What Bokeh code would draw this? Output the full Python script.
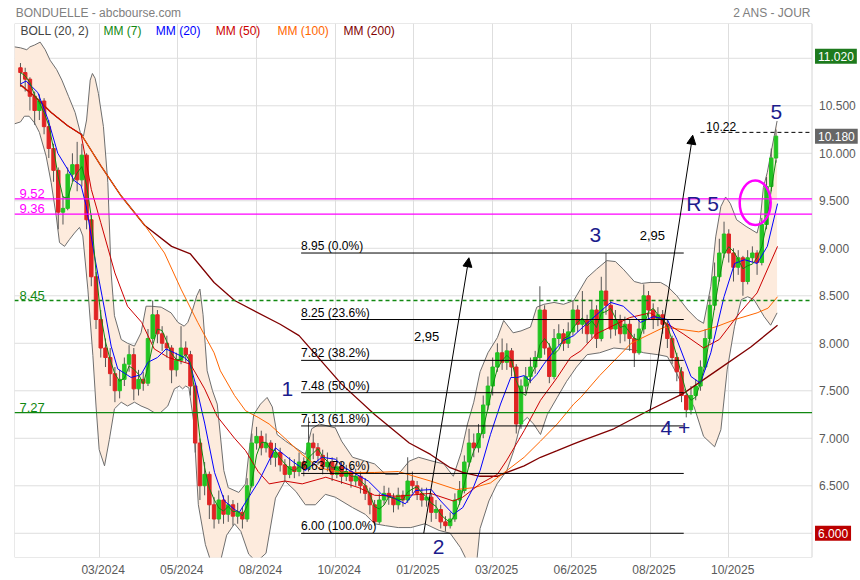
import pandas as pd
from bokeh.plotting import figure
from bokeh.models import ColumnDataSource, FixedTicker, Label, Arrow, NormalHead, Range1d, LinearAxis
from bokeh.embed import file_html
from bokeh.resources import INLINE

FONT = "Liberation Sans"

# ---------------- data (x = trading-day index, one candle per 3 days) ----------------
candle_day = list(range(0, 481, 3))
first_open = 10.90
closes = [
    10.85, 10.78, 10.60, 10.45, 10.55, 10.28, 10.05, 9.82, 9.38, 9.42,
    9.78, 9.88, 9.72, 9.98, 9.30, 8.70, 8.25, 7.95, 7.85, 7.68,
    7.50, 7.62, 7.78, 7.88, 7.52, 7.62, 7.58, 8.05, 8.30, 8.10,
    8.00, 7.95, 7.72, 7.82, 7.95, 7.88, 7.55, 6.95, 6.50, 6.62,
    6.30, 6.15, 6.35, 6.20, 6.30, 6.18, 6.22, 6.15, 6.50, 6.95,
    7.02, 6.90, 6.95, 6.80, 6.85, 6.72, 6.62, 6.70, 6.65, 6.75,
    6.68, 6.95, 6.90, 6.82, 6.70, 6.75, 6.62, 6.70, 6.60, 6.65,
    6.55, 6.60, 6.50, 6.42, 6.30, 6.12, 6.35, 6.42, 6.38, 6.30,
    6.40, 6.35, 6.55, 6.50, 6.42, 6.35, 6.38, 6.22, 6.25, 6.12,
    6.08, 6.15, 6.35, 6.45, 6.75, 6.95, 6.90, 7.05, 7.35, 7.55,
    7.75, 7.90, 7.80, 7.92, 7.75, 7.15, 7.55, 7.65, 7.75, 7.85,
    8.35, 7.95, 7.65, 8.05, 8.10, 8.00, 8.12, 8.35, 8.20, 8.25,
    8.10, 8.35, 8.05, 8.55, 8.40, 8.15, 8.25, 8.10, 8.20, 8.05,
    7.90, 8.15, 8.50, 8.35, 8.25, 8.30, 8.20, 8.05, 7.85, 7.70,
    7.45, 7.30, 7.45, 7.55, 7.75, 8.05, 8.40, 8.70, 8.95, 9.15,
    8.95, 8.80, 8.90, 8.65, 8.90, 8.95, 8.85, 9.25, 9.65, 9.95,
    10.18,
]
highs = [
    10.95, 10.90, 10.80, 10.65, 10.62, 10.58, 10.35, 10.10, 9.85, 9.55,
    9.85, 10.00, 10.12, 10.10, 10.00, 9.35, 8.75, 8.35, 8.05, 7.95,
    7.75, 7.72, 7.85, 7.98, 7.95, 7.72, 7.70, 8.15, 8.45, 8.35,
    8.18, 8.08, 7.98, 7.90, 8.18, 8.02, 7.92, 7.58, 7.00, 6.75,
    6.65, 6.38, 6.45, 6.40, 6.40, 6.35, 6.32, 6.28, 6.58, 7.05,
    7.12, 7.08, 7.05, 6.98, 6.95, 6.90, 6.78, 6.80, 6.78, 6.85,
    6.80, 7.22, 7.05, 6.95, 6.88, 6.85, 6.80, 6.80, 6.75, 6.72,
    6.70, 6.68, 6.65, 6.58, 6.48, 6.35, 6.42, 6.50, 6.48, 6.42,
    6.48, 6.45, 6.80, 6.65, 6.55, 6.48, 6.48, 6.42, 6.35, 6.30,
    6.18, 6.22, 6.42, 6.55, 6.82, 7.10, 7.05, 7.15, 7.45, 7.65,
    7.85, 8.00, 8.05, 8.00, 7.95, 7.78, 7.62, 7.75, 7.85, 7.92,
    8.60, 8.40, 8.00, 8.15, 8.20, 8.15, 8.22, 8.45, 8.40, 8.55,
    8.30, 8.45, 8.40, 8.70, 8.95, 8.45, 8.35, 8.30, 8.28, 8.25,
    8.10, 8.25, 8.62, 8.55, 8.42, 8.38, 8.35, 8.25, 8.08, 7.90,
    7.75, 7.50, 7.55, 7.62, 7.82, 8.15, 8.50, 8.85, 9.10, 9.28,
    9.20, 9.00, 8.98, 8.92, 8.98, 9.02, 8.98, 9.32, 9.75, 10.05,
    10.25,
]
lows = [
    10.70, 10.65, 10.45, 10.30, 10.35, 10.20, 9.95, 9.70, 9.20, 9.25,
    9.40, 9.70, 9.60, 9.65, 9.20, 8.60, 8.15, 7.85, 7.75, 7.55,
    7.38, 7.42, 7.55, 7.70, 7.40, 7.45, 7.50, 7.55, 8.00, 8.00,
    7.92, 7.85, 7.58, 7.65, 7.78, 7.80, 7.45, 6.85, 6.35, 6.40,
    6.15, 6.05, 6.10, 6.10, 6.12, 6.08, 6.10, 6.05, 6.12, 6.48,
    6.88, 6.82, 6.85, 6.72, 6.70, 6.65, 6.55, 6.58, 6.58, 6.60,
    6.60, 6.65, 6.78, 6.72, 6.62, 6.65, 6.55, 6.58, 6.52, 6.55,
    6.48, 6.50, 6.42, 6.35, 6.20, 6.08, 6.10, 6.30, 6.30, 6.22,
    6.25, 6.28, 6.32, 6.42, 6.35, 6.28, 6.28, 6.12, 6.15, 6.05,
    6.02, 6.05, 6.12, 6.30, 6.42, 6.70, 6.80, 6.85, 7.00, 7.30,
    7.45, 7.70, 7.72, 7.72, 7.65, 7.05, 7.10, 7.48, 7.58, 7.68,
    7.82, 7.88, 7.58, 7.62, 7.98, 7.92, 7.95, 8.08, 8.12, 8.10,
    8.00, 8.05, 7.95, 8.02, 8.30, 8.05, 8.08, 8.00, 8.02, 7.92,
    7.75, 7.88, 8.10, 8.25, 8.15, 8.18, 8.10, 7.95, 7.78, 7.60,
    7.38, 7.22, 7.25, 7.40, 7.50, 7.72, 8.00, 8.35, 8.65, 8.90,
    8.85, 8.65, 8.72, 8.50, 8.62, 8.85, 8.72, 8.82, 9.20, 9.60,
    9.90,
]
assert len(closes) == len(highs) == len(lows) == len(candle_day)
opens = [first_open] + closes[:-1]

# Bollinger (20, 2) bands
bb_up_day = [-3.8, 0, 4, 6, 9, 12.5, 15.7, 18.8, 23, 26.3, 30.5, 34.7, 38, 40, 42, 44.3, 45.7, 47.4, 49.5,
             52.7, 55.5, 57.6, 59.7, 64, 68, 72.4, 76.6, 79.8, 83, 89.4, 95.7, 100, 104, 106.3, 109.5,
             112, 114, 116, 118.6, 122, 125, 129.2, 132, 138.7, 143, 145, 148.2, 152.5, 156.7, 160,
             163, 168.4, 174.7, 181, 185, 190, 200, 204, 211, 219, 225, 232, 240, 247, 253, 261.5,
             269, 275, 280, 284, 288, 292, 297, 303, 307, 313, 318, 324, 328, 332.5, 339, 345, 351.5,
             360, 366, 372.5, 378, 383, 390, 394.6, 400, 406.7, 411, 417, 424, 430, 434, 438.6, 441.7,
             445, 448, 451, 455, 461, 468, 470, 472, 474.5, 480.7]
bb_up_val = [11.12, 11.11, 11.09, 11.12, 11.14, 11.17, 11.09, 10.98, 10.88, 10.77, 10.60, 10.43, 10.22, 10.18,
             10.35, 10.77, 10.84, 10.79, 10.63, 10.28, 9.69, 8.74, 8.29, 8.04, 8.00, 7.97, 8.11, 8.39, 8.39,
             8.38, 8.32, 8.22, 8.18, 8.22, 8.36, 8.50, 8.57, 8.30, 7.71, 7.50, 7.36, 6.66, 6.48, 6.43, 6.52,
             6.83, 7.25, 7.36, 7.43, 7.33, 7.04, 6.97, 6.90, 6.83, 7.10, 7.15, 7.11, 6.97, 6.80, 6.76, 6.73,
             6.62, 6.62, 6.76, 6.80, 6.76, 6.73, 6.60, 6.85, 7.15, 7.38, 7.70, 7.90, 8.06, 8.24, 8.11, 8.13,
             8.17, 8.38, 8.41, 8.43, 8.41, 8.45, 8.69, 8.78, 8.87, 8.86, 8.78, 8.65, 8.63, 8.64, 8.64, 8.60,
             8.50, 8.35, 8.25, 8.21, 8.60, 9.12, 9.44, 9.54, 9.47, 9.30, 9.23, 9.16, 9.30, 9.64, 9.80, 10.34]
bb_lo_day = [-3.8, 0, 2.5, 5.5, 8.9, 12, 16.3, 19.5, 22.7, 24.8, 28, 31, 34.3, 37.5, 39.6, 42.8, 46, 48, 50,
             53.4, 56.5, 59.7, 64, 68, 72.4, 76.6, 81, 85, 89, 93.6, 97.8, 101, 103, 105, 107, 110, 113,
             117.5, 121, 127, 131, 136, 140, 145, 150, 156, 162, 168, 175, 181, 187.4, 193.7, 200, 211,
             219, 225, 232, 240, 248, 257, 266, 273, 279.5, 284, 290, 292, 297.6, 302.8, 309, 313.4,
             317.7, 322, 326, 330.4, 334.7, 341, 347, 353.3, 360, 368, 377, 390, 396, 405, 411, 417, 422,
             428, 434, 441, 445, 449, 453.7, 458, 462, 466, 472.5, 476.6, 480.7]
bb_lo_val = [10.31, 10.33, 10.39, 10.39, 10.32, 10.22, 9.97, 9.69, 9.34, 9.06, 9.02, 9.09, 9.16, 9.22, 9.13,
             8.57, 7.87, 7.34, 6.88, 6.71, 6.99, 7.31, 7.38, 7.34, 7.38, 7.34, 7.31, 7.27, 7.27, 7.34, 7.52,
             7.55, 7.52, 7.55, 7.53, 7.18, 6.30, 5.88, 5.70, 5.70, 5.98, 6.10, 6.02, 5.78, 5.70, 5.79, 6.37,
             6.55, 6.44, 6.30, 6.30, 6.41, 6.38, 6.27, 6.20, 6.10, 6.08, 6.06, 6.06, 6.10, 6.03, 6.00, 5.85,
             5.70, 5.72, 6.05, 6.34, 6.52, 6.66, 6.87, 7.15, 7.22, 7.15, 7.04, 7.25, 7.43, 7.60, 7.75, 7.88,
             7.90, 7.95, 7.93, 7.90, 7.88, 7.86, 7.68, 7.50, 7.33, 7.02, 6.91, 7.09, 7.72, 8.18, 8.46, 8.49,
             8.46, 8.28, 8.19, 8.32]

mm20_day = [0, 3.6, 11, 17.4, 23.7, 30, 34.3, 38.5, 41.7, 47, 53.4, 57.6, 61.8, 70.3, 76.6, 81, 87, 92.5,
            97.8, 104, 107.4, 111.6, 117, 123.3, 129.6, 136, 139, 151.5, 162, 172.6, 181, 191.4, 200, 206,
            221, 229.5, 236, 244.5, 251, 261, 267, 275, 281, 287.7, 292, 298.6, 305, 311.5, 315.6, 320,
            324, 328, 332.5, 339, 345, 351.5, 356, 366, 375, 383, 394, 402, 411, 417, 426, 432, 438.6,
            447, 453.7, 460, 468, 474.5, 481]
mm20_val = [10.73, 10.76, 10.64, 10.36, 10.00, 9.83, 9.71, 9.66, 9.45, 8.92, 8.36, 7.97, 7.73, 7.64, 7.67,
            7.80, 7.85, 7.94, 7.90, 7.85, 7.80, 7.55, 7.16, 6.64, 6.34, 6.25, 6.22, 6.55, 6.90, 6.76, 6.66,
            6.80, 6.78, 6.69, 6.55, 6.41, 6.38, 6.31, 6.45, 6.46, 6.34, 6.20, 6.27, 6.48, 6.66, 7.04, 7.36,
            7.64, 7.64, 7.66, 7.60, 7.67, 7.78, 7.92, 8.03, 8.08, 8.15, 8.30, 8.43, 8.39, 8.22, 8.28, 8.25,
            8.04, 7.65, 7.58, 7.90, 8.49, 8.84, 8.88, 8.84, 9.02, 9.47]
mm50_day = [0, 9, 19.5, 30, 38.5, 45, 51, 60, 68, 77, 85, 94, 102, 108, 117, 125, 136, 143, 151, 158, 168,
            179, 194, 215, 225, 240, 260.5, 275, 281, 292, 303, 309, 320, 330.4, 341, 349.4, 356, 366,
            387, 400, 421, 434, 444, 457, 468, 481]
mm50_val = [10.72, 10.60, 10.43, 10.29, 10.20, 9.62, 9.27, 8.74, 8.39, 8.22, 7.94, 7.85, 7.81, 7.78, 7.52,
            7.23, 7.00, 6.87, 6.65, 6.52, 6.55, 6.52, 6.59, 6.48, 6.40, 6.39, 6.42, 6.34, 6.38, 6.52, 6.62,
            6.77, 7.08, 7.40, 7.64, 7.85, 7.92, 8.10, 8.27, 8.32, 8.10, 7.95, 8.04, 8.32, 8.53, 9.02]
mm100_day = [0, 9, 19.5, 30, 38.5, 51, 64, 79, 91.5, 102, 112.6, 123, 127, 136, 143, 151, 158, 168, 179,
             189.5, 204, 225, 240, 260.5, 277, 288, 298.6, 309, 320, 330.4, 341, 351.5, 356, 368, 388,
             409, 431, 443, 454, 468, 475, 481]
mm100_val = [10.72, 10.60, 10.43, 10.29, 10.20, 9.87, 9.55, 9.24, 8.95, 8.57, 8.22, 7.90, 7.71, 7.45, 7.29,
             7.22, 7.15, 7.00, 6.83, 6.69, 6.64, 6.64, 6.65, 6.55, 6.46, 6.48, 6.53, 6.66, 6.80, 6.97, 7.15,
             7.36, 7.43, 7.66, 8.00, 8.17, 8.12, 8.18, 8.25, 8.32, 8.37, 8.49]
mm200_day = [0, 9, 19.5, 30, 38.5, 51, 64, 79, 96, 108, 123, 136, 165, 177, 204, 225, 247, 260.5, 273, 281,
             292, 303, 309, 320, 330.4, 341, 351.5, 356, 377, 400, 421, 443, 464, 481]
mm200_val = [10.72, 10.60, 10.43, 10.29, 10.20, 9.87, 9.55, 9.24, 9.02, 8.94, 8.64, 8.45, 8.20, 8.08, 7.57,
             7.25, 6.95, 6.83, 6.69, 6.64, 6.60, 6.60, 6.64, 6.71, 6.80, 6.87, 6.94, 6.97, 7.10, 7.30, 7.47,
             7.72, 7.96, 8.19]

# x-axis month ticks (every 50 trading days)
month_tick_days = [50, 100, 150, 200, 250, 300, 350, 400, 450]
month_labels = ["03/2024", "05/2024", "08/2024", "10/2024", "01/2025", "03/2025", "06/2025", "08/2025", "10/2025"]
price_ticks = [6.0, 6.5, 7.0, 7.5, 8.0, 8.5, 9.0, 9.5, 10.0, 10.5, 11.0]
price_tick_labels = ["", "6.500", "7.000", "7.500", "8.000", "8.500", "9.000", "9.500", "10.000", "10.500", ""]

# annotations
fib_levels = [8.95, 8.25, 7.82, 7.48, 7.13, 6.63, 6.00]
fib_pcts = ["0.0%", "23.6%", "38.2%", "50.0%", "61.8%", "78.6%", "100.0%"]
fib_span = [178.3, 421.4]
magenta_levels = [9.52, 9.36]
green_dash_level = 8.45
green_level = 7.27
target_level = 10.22
target_span = [432, 502.9]
arrows = [  # (x_start, y_start, x_end, y_end)
    (256.2, 6.00, 284.9, 8.90),
    (399.8, 7.27, 427.1, 10.19),
]
move_labels = [("2,95", 258, 8.07), ("2,95", 401.5, 9.13)]
wave_labels = [("1", 169.6, 7.52), ("2", 265.6, 5.86), ("3", 365.3, 9.14), ("4 +", 416.1, 7.11),
               ("5", 480.3, 10.43), ("R 5", 433.3, 9.47)]
circle_center = (466.8, 9.48)
circle_size = (19.7, 0.47)
price_boxes = [("11.020", 11.02, "#1d7a1d"), ("10.180", 10.18, "#666666"), ("6.000", 6.00, "#bb0000")]
legend_items = [("BOLL (20, 2)", 0, "#444444"), ("MM (7)", 52.7, "#118811"), ("MM (20)", 86, "#0000ff"),
                ("MM (50)", 124, "#cc0000"), ("MM (100)", 163.3, "#ff6600"), ("MM (200)", 205.2, "#800000")]
header_texts = ["BONDUELLE - abcbourse.com", "2 ANS - JOUR"]
header_centers = [49.5, 477.6]

X0, X1, XE = -3.8, 502.9, 533.7     # plot area left/right, right end of the price-label strip
Y0, Y1 = 5.745, 11.366

# ---------------- figure ----------------
p = figure(frame_width=846, frame_height=534, x_range=Range1d(X0, XE), y_range=Range1d(Y0, Y1),
           output_backend="svg", toolbar_location=None,
           min_border_left=14, min_border_top=23, min_border_right=0, min_border_bottom=18,
           background_fill_color="white", border_fill_color="white")
p.outline_line_color = None
p.yaxis.visible = False
p.ygrid.grid_line_color = None

bottom_axis = p.below[0]
bottom_axis.ticker = FixedTicker(ticks=[d + 2.5 for d in month_tick_days])
bottom_axis.major_label_overrides = {d + 2.5: lab for d, lab in zip(month_tick_days, month_labels)}
p.xgrid.ticker = FixedTicker(ticks=month_tick_days)
p.xgrid.grid_line_color = "#dedede"

# header line (as an axis above the plot)
top_axis = LinearAxis(ticker=FixedTicker(ticks=header_centers),
                      major_label_overrides={c: t for c, t in zip(header_centers, header_texts)})
p.add_layout(top_axis, "above")

for ax in (bottom_axis, top_axis):
    ax.axis_line_color = None
    ax.major_tick_line_color = None
    ax.minor_tick_line_color = None
    ax.major_tick_out = 0
    ax.minor_tick_out = 0
    ax.major_label_text_font = FONT
    ax.major_label_text_font_size = "12px"
bottom_axis.major_label_text_color = "#5a5a5a"
bottom_axis.major_label_standoff = 5
top_axis.major_label_text_color = "#808080"
top_axis.major_label_standoff = 4

# horizontal grid lines across the plot area only
n = len(price_ticks)
p.segment(x0=[X0] * n, x1=[X1] * n, y0=price_ticks, y1=price_ticks, line_color="#dedede", line_width=1,
          level="underlay")
# plot-area border
p.quad(left=[X0], right=[X1], bottom=[Y0], top=[Y1], fill_color=None, line_color="#d4d4d4", level="underlay")

# Bollinger band
p.patch(bb_up_day + bb_lo_day[::-1], bb_up_val + bb_lo_val[::-1], fill_color="#fdebdd", line_color=None)
p.line(bb_up_day, bb_up_val, line_color="#6e6e6e", line_width=1)
p.line(bb_lo_day, bb_lo_val, line_color="#6e6e6e", line_width=1)

# candles
up = [c >= o for o, c in zip(opens, closes)]
src = ColumnDataSource(dict(
    x=candle_day, h=highs, l=lows,
    top=[max(o, c) for o, c in zip(opens, closes)],
    bottom=[min(o, c) for o, c in zip(opens, closes)],
    color=["#22c422" if u else "#e02424" for u in up],
))
p.segment(x0="x", y0="l", x1="x", y1="h", source=src, line_color="#555555", line_width=1)
p.vbar(x="x", width=2.2, top="top", bottom="bottom", source=src, fill_color="color", line_color="color")

# moving averages
mm7 = pd.Series(closes).rolling(3, min_periods=1).mean().tolist()
p.line(mm200_day, mm200_val, line_color="#800000", line_width=1.3)
p.line(mm100_day, mm100_val, line_color="#ff6600", line_width=1)
p.line(mm50_day, mm50_val, line_color="#cc0000", line_width=1)
p.line(mm20_day, mm20_val, line_color="#0000ff", line_width=1)
p.line(candle_day, mm7, line_color="#118811", line_width=1)

# horizontal levels
for lv in magenta_levels:
    p.line([X0, X1], [lv, lv], line_color="#ff00ff", line_width=1.3)
p.line([X0, X1], [green_dash_level] * 2, line_color="#118811", line_width=1.3, line_dash="4 3")
p.line([X0, X1], [green_level] * 2, line_color="#118811", line_width=1.3)
p.line(target_span, [target_level, target_level], line_color="black", line_width=1, line_dash="4 3")

# fibonacci retracement
p.segment(x0=[fib_span[0]] * len(fib_levels), x1=[fib_span[1]] * len(fib_levels),
          y0=fib_levels, y1=fib_levels, line_color="black", line_width=1)


def lab(text, x, y, color="black", size="12px", align="left", baseline="bottom", xo=0, yo=0, **kw):
    p.add_layout(Label(x=x, y=y, text=text, text_color=color, text_font=FONT, text_font_size=size,
                       text_align=align, text_baseline=baseline, x_offset=xo, y_offset=yo, **kw))


for lv, pct in zip(fib_levels, fib_pcts):
    lab(f"{lv:.2f}  ({pct})", fib_span[0], lv, yo=0)

lab("9.52", X0, 9.52, color="#ff00ff", size="13px", xo=5, yo=1)
lab("9.36", X0, 9.36, color="#ff00ff", size="13px", xo=5, yo=1)
lab("8.45", X0, 8.45, color="#118811", size="13px", xo=5, yo=1)
lab("7.27", X0, 7.27, color="#118811", size="13px", xo=5, yo=1)
lab(f"{target_level:.2f}", 435.6, target_level, yo=1)

for x0, y0, x1, y1 in arrows:
    p.add_layout(Arrow(end=NormalHead(size=9, fill_color="black", line_color="black"),
                       x_start=x0, y_start=y0, x_end=x1, y_end=y1, line_color="black", line_width=1))
for t, x, y in move_labels:
    lab(t, x, y, size="13px", align="center", baseline="middle")
for t, x, y in wave_labels:
    lab(t, x, y, color="#1c1c8c", size="21px", align="center", baseline="middle")

p.ellipse(x=[circle_center[0]], y=[circle_center[1]], width=[circle_size[0]], height=[circle_size[1]],
          fill_color=None, line_color="#ff00ff", line_width=2.5)

# legend row inside the top of the plot area
for t, x, c in legend_items:
    lab(t, x, Y1, color=c, size="12px", baseline="middle", yo=-7)

# price scale on the right
for t, v in zip(price_tick_labels, price_ticks):
    if t:
        lab(t, X1, v, color="#5a5a5a", size="12px", baseline="middle", xo=7)
for t, y, c in price_boxes:
    lab(t, X1, y, color="white", size="12px", baseline="middle", xo=3, background_fill_color=c, padding=3)

open("out.html", "w").write(file_html(p, INLINE))
